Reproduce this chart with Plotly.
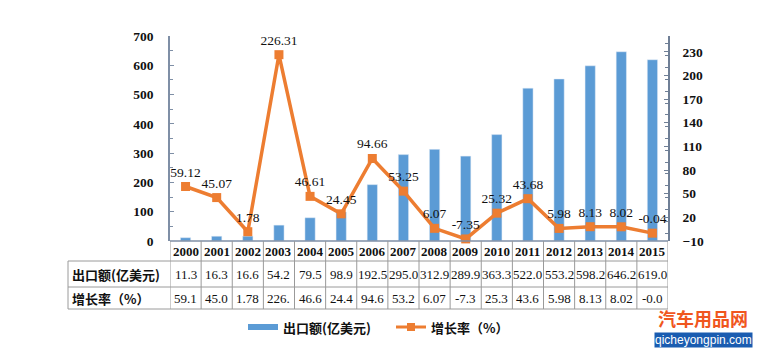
import plotly.graph_objects as go

years = ["2000", "2001", "2002", "2003", "2004", "2005", "2006", "2007",
         "2008", "2009", "2010", "2011", "2012", "2013", "2014", "2015"]
exports = [11.3, 16.3, 16.6, 54.2, 79.5, 98.9, 192.5, 295.0,
           312.9, 289.9, 363.3, 522.0, 553.2, 598.2, 646.2, 619.0]
growth = [59.12, 45.07, 1.78, 226.31, 46.61, 24.45, 94.66, 53.25,
          6.07, -7.35, 25.32, 43.68, 5.98, 8.13, 8.02, -0.04]
name_exports = "出口额(亿美元)"
name_growth = "增长率（%）"
row_label_growth = "增长率（%）"

BLUE = "#5B9BD5"
ORANGE = "#ED7D31"
GRID = "#9A9A9A"
SERIF = "Liberation Serif, Noto Sans CJK SC, serif"
CJK = "Noto Sans CJK SC, sans-serif"

OFF = 8  # page body margin
W, H = 762 - 2 * OFF, 356 - 2 * OFF
PLOT_L, PLOT_R, PLOT_T, PLOT_B = 170, 668, 36, 241  # in page pixels
L = PLOT_L - OFF
R = W - (PLOT_R - OFF)
T = PLOT_T - OFF
B = H - (PLOT_B - OFF)
pw, ph = W - L - R, H - T - B


def px_x(x):
    return (x - PLOT_L) / pw


def px_y(y):
    return (PLOT_B - y) / ph


def note(x, y, text, font, xref="paper", xanchor="center", **kw):
    return dict(x=x, y=y, xref=xref, yref="paper", text=text, showarrow=False,
                xanchor=xanchor, yanchor="middle", font=font, **kw)


fig = go.Figure()
fig.add_trace(go.Bar(x=years, y=exports, name=name_exports, marker_color=BLUE,
                     width=0.33, yaxis="y", showlegend=False))
fig.add_trace(go.Scatter(x=years, y=growth, name=name_growth, yaxis="y2",
                         mode="lines+markers+text",
                         line=dict(color=ORANGE, width=3.5),
                         marker=dict(symbol="square", size=9, color=ORANGE),
                         text=[str(v) for v in growth], textposition="top center",
                         textfont=dict(family=SERIF, size=13.5, color="#111"),
                         cliponaxis=False, showlegend=False))

shapes = []
annotations = []

n = len(years)
y_top = 0.0
y_r1 = px_y(261)
y_r2 = px_y(287)
y_bot = px_y(309)
x_left = px_x(68)
line = dict(color=GRID, width=1)
shapes.append(dict(type="line", xref="paper", yref="paper", x0=0, x1=1, y0=y_top, y1=y_top,
                   line=dict(color="#7F8FA6", width=1.5)))
for yy in (y_r1, y_r2, y_bot):
    shapes.append(dict(type="line", xref="paper", yref="paper", x0=x_left, x1=1, y0=yy, y1=yy, line=line))
for k in range(n + 1):
    shapes.append(dict(type="line", xref="x", yref="paper", x0=k - 0.5, x1=k - 0.5,
                       y0=y_top, y1=y_bot, line=line))
shapes.append(dict(type="line", xref="paper", yref="paper", x0=x_left, x1=x_left,
                   y0=y_r1, y1=y_bot, line=line))

ymid0 = (y_top + y_r1) / 2
ymid1 = (y_r1 + y_r2) / 2
ymid2 = (y_r2 + y_bot) / 2
cell_font = dict(family=SERIF, size=13, color="#111")
year_font = dict(family=SERIF, size=13, color="#111", weight="bold")
cjk_font = dict(family=CJK, size=13, color="#111", weight="bold")
for i, yr in enumerate(years):
    annotations.append(note(i, ymid0, yr, year_font, xref="x"))
    annotations.append(note(i, ymid1, f"{exports[i]:.1f}", cell_font, xref="x"))
    annotations.append(note(i, ymid2, str(growth[i])[:4], cell_font, xref="x"))
annotations.append(note(px_x(70), ymid1, name_exports, cjk_font, xanchor="left"))
annotations.append(note(px_x(70), ymid2, row_label_growth, cjk_font, xanchor="left"))

# manual legend
ly = px_y(327)
shapes.append(dict(type="rect", xref="paper", yref="paper", x0=px_x(248), x1=px_x(278),
                   y0=px_y(330), y1=px_y(324), fillcolor=BLUE, line=dict(width=0)))
annotations.append(note(px_x(281), ly, name_exports, cjk_font, xanchor="left"))
shapes.append(dict(type="line", xref="paper", yref="paper", x0=px_x(396), x1=px_x(426),
                   y0=ly, y1=ly, line=dict(color=ORANGE, width=3)))
shapes.append(dict(type="rect", xref="paper", yref="paper", x0=px_x(407), x1=px_x(415),
                   y0=px_y(331), y1=px_y(323), fillcolor=ORANGE, line=dict(width=0)))
annotations.append(note(px_x(429), ly, name_growth, cjk_font, xanchor="left"))

# watermark
annotations.append(note(px_x(703), px_y(318), "汽车用品网",
                        dict(family=CJK, size=18, color="#F0561E", weight="bold")))
annotations.append(note(px_x(703), px_y(339.5), "qicheyongpin.com",
                        dict(family="Liberation Sans, Arial, sans-serif", size=12, color="white"),
                        bgcolor="#1A5CB0", borderpad=0))

fig.update_layout(
    width=W, height=H,
    margin=dict(l=L, r=R, t=T, b=B, pad=0),
    paper_bgcolor="white", plot_bgcolor="white",
    bargap=0.67,
    xaxis=dict(type="category", range=[-0.5, n - 0.5], showticklabels=False,
               showgrid=False, zeroline=False, showline=False, ticks=""),
    yaxis=dict(range=[0, 700], dtick=100, showgrid=False, zeroline=False,
               showline=True, linecolor="#7F8FA6", linewidth=1.5,
               ticks="inside", ticklen=4, tickcolor="#7F8FA6",
               minor=dict(dtick=50, ticks="inside", ticklen=3, tickcolor="#7F8FA6"),
               ticklabelstandoff=12,
               tickfont=dict(family=SERIF, size=13.5, color="#111", weight="bold")),
    yaxis2=dict(range=[-10, 250], tick0=-10, dtick=30, overlaying="y", side="right",
                showgrid=False, zeroline=False, showline=True, linecolor="#6F7F96", linewidth=1.5,
                ticks="inside", ticklen=4, tickcolor="#6F7F96",
                minor=dict(dtick=15, ticks="inside", ticklen=3, tickcolor="#6F7F96"),
                ticklabelstandoff=10,
                tickfont=dict(family=SERIF, size=13.5, color="#111", weight="bold")),
    shapes=shapes,
    annotations=annotations,
)

fig.write_html("out.html")
